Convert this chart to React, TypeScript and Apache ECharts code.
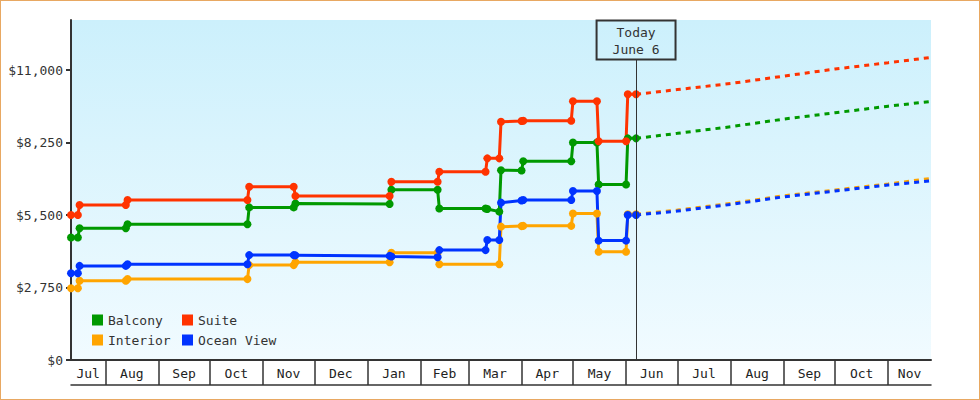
import React, { useEffect, useRef } from "react";
import * as echarts from "echarts";

const FONT = '"DejaVu Sans Mono", monospace';
const TEXT = "#333333";

const axisStart = "2012-07-12";
const axisEnd = "2013-11-26";
const todayAt = "2013-06-06T20:00";
const todayLabel = "Today";
const todayDate = "June 6";
const todayBoxBottom = 11400;

const monthNames = ["Jan", "Feb", "Mar", "Apr", "May", "Jun", "Jul", "Aug", "Sep", "Oct", "Nov", "Dec"];
const yTickStep = 2750;
const yMax = 12900;

const observedDates = [
  "2012-07-12", "2012-07-16", "2012-07-17", "2012-08-13", "2012-08-14",
  "2012-10-23", "2012-10-24", "2012-11-19", "2012-11-20", "2013-01-14",
  "2013-01-15", "2013-02-11", "2013-02-12", "2013-03-11", "2013-03-12",
  "2013-03-19", "2013-03-20", "2013-04-01", "2013-04-02", "2013-04-30",
  "2013-05-01", "2013-05-15", "2013-05-16", "2013-06-01", "2013-06-02",
  "2013-06-06T20:00",
];

const balcony = [4650, 4650, 5000, 5000, 5150, 5150, 5790, 5790, 5940, 5920, 6460, 6460, 5750, 5750, 5730, 5630, 7200, 7190, 7540, 7540, 8250, 8250, 6660, 6660, 8410, 8410];
const suite = [5500, 5500, 5880, 5880, 6070, 6070, 6570, 6570, 6220, 6220, 6760, 6760, 7140, 7140, 7650, 7650, 9040, 9070, 9080, 9080, 9820, 9820, 8300, 8300, 10080, 10080];
const interior = [2720, 2720, 3010, 3010, 3070, 3070, 3600, 3600, 3710, 3710, 4070, 4070, 3630, null, null, 3630, 5060, 5080, 5090, 5090, 5560, 5560, 4110, 4110, 5530, 5530];
const oceanView = [3290, 3290, 3570, 3570, 3630, 3630, 3980, 3980, 3970, 3950, 3930, 3900, 4170, 4170, 4550, 4550, 5970, 6050, 6070, 6070, 6410, 6410, 4530, 4530, 5500, 5500];

const forecastDates = ["2013-06-06T20:00", "2013-07-01", "2013-08-01", "2013-09-01", "2013-10-01", "2013-11-01", "2013-11-26"];
const balconyForecast = [8410, 8600, 8850, 9140, 9380, 9630, 9810];
const suiteForecast = [10080, 10260, 10490, 10770, 11040, 11280, 11480];
const interiorForecast = [5530, 5690, 5940, 6230, 6450, 6680, 6890];
const oceanViewForecast = [5500, 5650, 5900, 6190, 6410, 6640, 6800];

const categories = ["Balcony", "Suite", "Interior", "Ocean View"];
const colors = ["#009900", "#ff3300", "#ffa500", "#0033ff"];
const observed = [balcony, suite, interior, oceanView];
const forecast = [balconyForecast, suiteForecast, interiorForecast, oceanViewForecast];

const ts = (s: string) => Date.parse(s.length > 10 ? s + ":00Z" : s + "T00:00:00Z");

export default function App() {
  const ref = useRef<HTMLDivElement>(null);

  useEffect(() => {
    document.body.style.margin = "0";
    if (!ref.current) return;
    const chart = echarts.init(ref.current, null, { renderer: "svg" });

    const xMin = ts(axisStart);
    const xMax = ts(axisEnd);
    const startD = new Date(xMin);
    const boundaries: number[] = [];
    for (let m = startD.getUTCMonth() + 1; ; m++) {
      const t = Date.UTC(startD.getUTCFullYear(), m, 1);
      if (t >= xMax) break;
      boundaries.push(t);
    }
    const edges = [xMin, ...boundaries, xMax];
    const mids: number[] = [];
    for (let i = 0; i < edges.length - 1; i++) mids.push((edges[i] + edges[i + 1]) / 2);

    const series: any[] = [];
    categories.forEach((name, i) => {
      series.push({
        name,
        type: "line",
        xAxisIndex: 0,
        data: observedDates.map((d, k) => [ts(d), observed[i][k]]),
        connectNulls: true,
        symbol: "circle",
        symbolSize: 8,
        showAllSymbol: true,
        itemStyle: { color: colors[i] },
        lineStyle: { color: colors[i], width: 3 },
        z: 3,
        ...(i === 1
          ? {
              markLine: {
                silent: true,
                symbol: ["none", "none"],
                lineStyle: { color: TEXT, width: 1, type: "solid" },
                label: {
                  show: true,
                  position: "end",
                  distance: 0,
                  formatter: todayLabel + "\n" + todayDate,
                  color: TEXT,
                  fontFamily: FONT,
                  fontSize: 13,
                  lineHeight: 17,
                  align: "center",
                  borderColor: TEXT,
                  borderWidth: 1,
                  padding: [3, 16, 2, 16],
                  backgroundColor: "transparent",
                },
                data: [[{ coord: [ts(todayAt), 0] }, { coord: [ts(todayAt), todayBoxBottom] }]],
              },
            }
          : {}),
      });
    });
    categories.forEach((name, i) => {
      series.push({
        name,
        type: "line",
        xAxisIndex: 0,
        data: forecastDates.map((d, k) => [ts(d), forecast[i][k]]),
        symbol: "none",
        itemStyle: { color: colors[i] },
        lineStyle: { color: colors[i], width: 3, type: [5, 5] },
        z: 2,
      });
    });

    const legendCommon = {
      orient: "vertical",
      top: 313,
      padding: 0,
      icon: "rect",
      itemWidth: 11,
      itemHeight: 11,
      itemGap: 6,
      textStyle: { fontFamily: FONT, fontSize: 13, color: TEXT, lineHeight: 14 },
    };

    chart.setOption({
      animation: false,
      backgroundColor: "#ffffff",
      grid: {
        left: 71,
        right: 49,
        top: 20,
        bottom: 40,
        show: true,
        borderWidth: 0,
        backgroundColor: new echarts.graphic.LinearGradient(0, 0, 0, 1, [
          { offset: 0, color: "#ccf0fc" },
          { offset: 1, color: "#f1fbff" },
        ]),
      },
      legend: [
        { ...legendCommon, left: 92, data: [categories[0], categories[2]] },
        { ...legendCommon, left: 182, data: [categories[1], categories[3]] },
      ],
      xAxis: [
        {
          type: "value",
          min: xMin,
          max: xMax,
          axisLine: { show: true, lineStyle: { color: TEXT, width: 2 } },
          axisTick: { show: true, customValues: boundaries, length: 25, lineStyle: { color: TEXT, width: 1.5 } },
          axisLabel: {
            customValues: mids,
            formatter: (v: number) => monthNames[new Date(v).getUTCMonth()],
            fontFamily: FONT,
            fontSize: 13,
            color: "#222",
            margin: 7,
          },
          splitLine: { show: false },
        },
        {
          type: "value",
          position: "bottom",
          offset: 25,
          min: xMin,
          max: xMax,
          axisLine: { show: true, lineStyle: { color: TEXT, width: 1.5 } },
          axisTick: { show: false },
          axisLabel: { show: false },
          splitLine: { show: false },
        },
      ],
      yAxis: {
        type: "value",
        min: 0,
        max: yMax,
        interval: yTickStep,
        axisLine: { show: true, lineStyle: { color: TEXT, width: 2 } },
        axisTick: { show: true, length: 5, lineStyle: { color: TEXT, width: 2 } },
        axisLabel: {
          formatter: (v: number) => "$" + v.toLocaleString("en-US"),
          fontFamily: FONT,
          fontSize: 13,
          color: TEXT,
          margin: 8,
          showMaxLabel: false,
        },
        splitLine: { show: false },
      },
      series,
    });

    return () => chart.dispose();
  }, []);

  return (
    <div style={{ position: "relative", width: 980, height: 400 }}>
      <div ref={ref} style={{ position: "absolute", left: 0, top: 0, width: 980, height: 400 }} />
      <div
        style={{
          position: "absolute",
          left: 0,
          top: 0,
          width: 980,
          height: 400,
          boxSizing: "border-box",
          border: "1px solid #e8a862",
          pointerEvents: "none",
        }}
      />
    </div>
  );
}
